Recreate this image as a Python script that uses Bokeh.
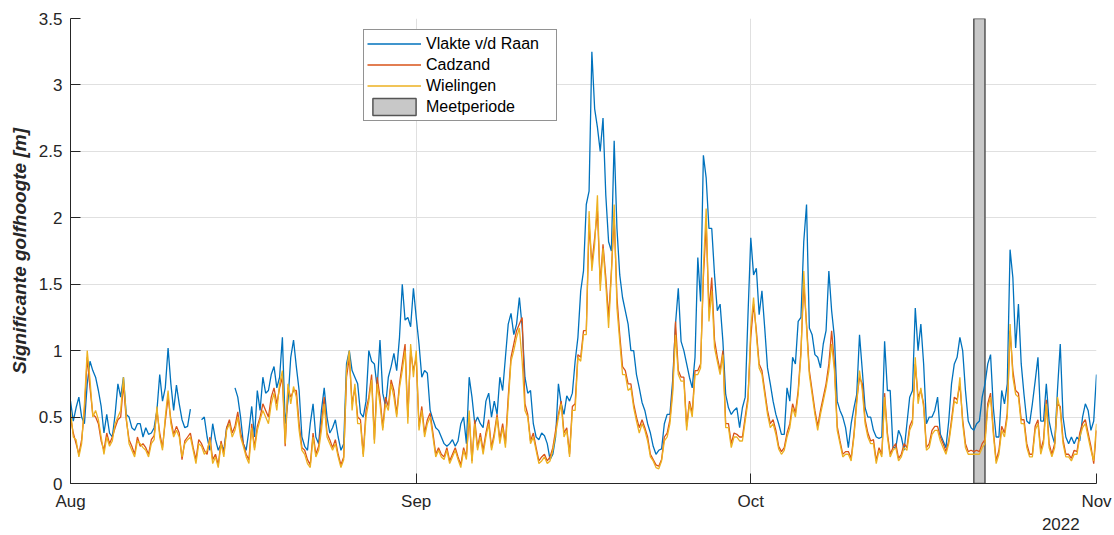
import numpy as np
from bokeh.plotting import figure
from bokeh.models import (Range1d, FixedTicker, NumeralTickFormatter, Legend,
                          LegendItem, LinearAxis)
from bokeh.embed import file_html
from bokeh.resources import INLINE

nan = float("nan")

# --- data (6-hourly samples from 1 Aug 2022) ---
step_days = 0.25
vlakte = [
    0.62, 0.47, 0.57, 0.65, 0.5, 0.45, 0.75, 0.92, 0.85, 0.8,
    0.7, 0.58, 0.38, 0.52, 0.38, 0.35, 0.52, 0.75, 0.65, 0.8,
    0.52, 0.5, 0.42, 0.4, 0.45, 0.45, 0.35, 0.42, 0.37, 0.38,
    0.42, 0.55, 0.82, 0.62, 0.72, 1.02, 0.75, 0.55, 0.74, 0.6,
    0.48, 0.42, 0.43, 0.56, nan, nan, nan, 0.48, 0.5, 0.35,
    0.25, 0.45, 0.33, 0.25, 0.3, 0.25, 0.42, 0.45, nan, 0.72,
    0.65, 0.5, 0.3, 0.25, 0.4, 0.58, 0.35, 0.7, 0.55, 0.8,
    0.68, 0.7, 0.82, 0.88, 0.72, 0.8, 1.1, 0.45, 0.62, 0.95,
    1.08, 0.88, 0.7, 0.35, 0.28, 0.25, 0.45, 0.6, 0.35, 0.3,
    0.55, 0.72, 0.5, 0.38, 0.42, 0.48, 0.35, 0.25, 0.3, 0.9,
    1.0, 0.85, 0.8, 0.75, 0.53, 0.5, 0.62, 1.0, 0.92, 0.9,
    0.72, 1.08, 0.68, 0.58, 0.8, 0.88, 0.98, 0.85, 1.1, 1.5,
    1.23, 1.25, 1.18, 1.47, 1.25, 1.05, 0.8, 0.85, 0.83, 0.55,
    0.48, 0.42, 0.4, 0.35, 0.3, 0.28, 0.3, 0.33, 0.28, 0.32,
    0.45, 0.5, 0.3, 0.8, 0.65, 0.45, 0.5, 0.45, 0.42, 0.62,
    0.68, 0.5, 0.62, 0.52, 0.8, 0.7, 0.95, 1.2, 1.28, 1.12,
    1.2, 1.4, 1.18, 0.8, 0.68, 0.7, 0.45, 0.35, 0.33, 0.38,
    0.36, 0.3, 0.18, 0.22, 0.35, 0.75, 0.6, 0.52, 0.66, 0.62,
    0.68, 0.92, 1.1, 1.45, 1.6, 2.1, 2.2, 3.25, 2.82, 2.68,
    2.5, 2.75, 2.17, 1.82, 1.75, 2.58, 1.92, 1.57, 1.4, 1.3,
    1.2, 1.0, 1.0, 0.82, 0.72, 0.61, 0.55, 0.45, 0.38, 0.28,
    0.22, 0.25, 0.26, 0.45, 0.52, 0.52, 0.78, 1.2, 1.47, 1.07,
    1.0, 0.9, 0.8, 0.72, 0.95, 1.7, 1.37, 2.47, 2.3, 1.92,
    1.92, 1.57, 1.3, 1.35, 1.07, 0.67, 0.57, 0.52, 0.55, 0.57,
    0.42, 0.57, 0.65, 1.27, 1.85, 1.57, 1.62, 1.27, 1.45, 1.17,
    0.87, 0.75, 0.62, 0.52, 0.45, 0.37, 0.37, 0.72, 0.62, 0.95,
    0.9, 1.22, 1.25, 1.82, 2.1, 1.17, 1.12, 0.97, 0.95, 0.87,
    1.05, 1.15, 1.6, 1.3, 1.1, 0.62, 0.55, 0.5, 0.42, 0.27,
    0.45, 0.57, 0.67, 1.12, 0.85, 0.57, 0.5, 0.5, 0.4, 0.35,
    0.34, 0.35, 1.07, 0.7, 0.7, 0.27, 0.27, 0.4, 0.35, 0.25,
    0.45, 0.65, 0.7, 1.32, 1.0, 1.2, 0.9, 0.45, 0.5, 0.5,
    0.55, 0.65, 0.37, 0.32, 0.27, 0.47, 0.75, 0.9, 0.95, 1.1,
    1.0, 0.7, 0.47, 0.42, 0.4, 0.45, 0.47, 0.65, 0.75, 0.9,
    0.97, 0.57, 0.35, 0.35, 0.7, 0.6, 0.75, 1.76, 1.55, 1.02,
    1.35, 0.9, 0.67, 0.47, 0.45, 0.6, 0.77, 0.95, 0.47, 0.47,
    0.75, 0.47, 0.37, 0.3, 0.7, 1.05, 0.5, 0.35, 0.3, 0.35,
    0.3, 0.35, 0.32, 0.5, 0.6, 0.55, 0.4, 0.47, 0.82,
]
cadzand = [
    0.5, 0.38, 0.3, 0.22, 0.33, 0.55, 0.95, 0.72, 0.52, 0.5,
    0.45, 0.32, 0.25, 0.38, 0.3, 0.35, 0.42, 0.48, 0.5, 0.75,
    0.48, 0.33, 0.28, 0.22, 0.35, 0.28, 0.3, 0.27, 0.22, 0.33,
    0.36, 0.55, 0.38, 0.27, 0.47, 0.65, 0.48, 0.37, 0.43, 0.38,
    0.18, 0.32, 0.35, 0.38, 0.27, 0.18, 0.33, 0.3, 0.25, 0.22,
    0.35, 0.18, 0.22, 0.14, 0.32, 0.22, 0.42, 0.48, 0.38, 0.43,
    0.54, 0.38, 0.3, 0.22, 0.18, 0.45, 0.27, 0.43, 0.5, 0.6,
    0.55, 0.5, 0.65, 0.72, 0.6, 0.72, 0.8, 0.28, 0.72, 0.65,
    0.7, 0.7, 0.45, 0.27, 0.25, 0.18, 0.14, 0.38, 0.22, 0.28,
    0.45, 0.65, 0.38, 0.33, 0.27, 0.33, 0.22, 0.14, 0.2, 0.8,
    0.95, 0.6, 0.72, 0.5, 0.48, 0.22, 0.55, 0.65, 0.82, 0.33,
    0.8, 0.65, 0.42, 0.65, 0.58, 0.78, 0.7, 0.52, 0.75, 0.9,
    1.05, 0.5, 1.0, 0.85, 0.95, 0.43, 0.58, 0.38, 0.48, 0.53,
    0.38, 0.22, 0.27, 0.22, 0.2, 0.27, 0.17, 0.22, 0.27, 0.2,
    0.14, 0.27, 0.2, 0.5, 0.17, 0.48, 0.27, 0.38, 0.25, 0.38,
    0.48, 0.27, 0.38, 0.52, 0.33, 0.45, 0.3, 0.65, 0.95, 1.05,
    1.15, 1.2, 1.25, 0.6, 0.52, 0.32, 0.38, 0.27, 0.17, 0.2,
    0.22, 0.17, 0.2, 0.27, 0.4, 0.52, 0.62, 0.38, 0.42, 0.22,
    0.58, 0.6, 0.97, 0.95, 1.15, 1.15, 1.95, 1.65, 1.85, 2.05,
    1.5, 1.8, 1.55, 1.25, 1.6, 2.0, 1.4, 1.12, 0.88, 0.85,
    0.75, 0.75, 0.6, 0.5, 0.42, 0.48, 0.42, 0.35, 0.22, 0.18,
    0.14, 0.13, 0.18, 0.35, 0.38, 0.48, 0.72, 1.22, 0.85, 0.8,
    0.8, 0.43, 0.62, 0.53, 0.85, 0.85, 0.9, 1.55, 1.95, 1.3,
    1.55, 1.08, 0.95, 0.85, 1.0, 0.45, 0.45, 0.3, 0.38, 0.37,
    0.35, 0.35, 0.5, 0.65, 1.1, 1.35, 1.15, 0.9, 0.85, 0.7,
    0.55, 0.45, 0.48, 0.4, 0.28, 0.24, 0.27, 0.38, 0.45, 0.6,
    0.53, 0.7, 1.0, 1.5, 1.2, 0.85, 0.7, 0.55, 0.43, 0.55,
    0.65, 0.75, 0.9, 1.15, 0.9, 0.43, 0.32, 0.22, 0.24, 0.24,
    0.19, 0.37, 0.63, 0.8, 0.75, 0.48, 0.38, 0.32, 0.33, 0.17,
    0.27, 0.22, 0.68, 0.38, 0.22, 0.27, 0.3, 0.19, 0.22, 0.3,
    0.27, 0.43, 0.48, 0.9, 0.65, 0.7, 0.6, 0.27, 0.3, 0.4,
    0.43, 0.43, 0.35, 0.3, 0.24, 0.32, 0.48, 0.65, 0.63, 0.75,
    0.48, 0.3, 0.24, 0.25, 0.24, 0.25, 0.24, 0.3, 0.33, 0.6,
    0.68, 0.4, 0.17, 0.25, 0.43, 0.38, 0.53, 1.15, 0.85, 0.7,
    0.68, 0.48, 0.48, 0.3, 0.22, 0.22, 0.43, 0.48, 0.25, 0.33,
    0.63, 0.3, 0.22, 0.3, 0.6, 0.58, 0.33, 0.22, 0.22, 0.19,
    0.25, 0.24, 0.38, 0.45, 0.48, 0.38, 0.28, 0.15, 0.4,
]
wielingen = [
    0.55, 0.35, 0.33, 0.2, 0.3, 0.6, 1.0, 0.78, 0.5, 0.55,
    0.48, 0.35, 0.22, 0.35, 0.28, 0.32, 0.45, 0.5, 0.55, 0.8,
    0.5, 0.3, 0.25, 0.2, 0.32, 0.3, 0.27, 0.25, 0.2, 0.3,
    0.33, 0.58, 0.35, 0.25, 0.5, 0.7, 0.45, 0.35, 0.4, 0.35,
    0.2, 0.3, 0.33, 0.35, 0.25, 0.15, 0.3, 0.28, 0.22, 0.25,
    0.33, 0.15, 0.2, 0.12, 0.3, 0.2, 0.4, 0.45, 0.35, 0.4,
    0.5, 0.35, 0.28, 0.2, 0.15, 0.42, 0.25, 0.4, 0.48, 0.55,
    0.5, 0.45, 0.6, 0.68, 0.55, 0.75, 0.85, 0.3, 0.75, 0.6,
    0.73, 0.65, 0.4, 0.25, 0.22, 0.15, 0.12, 0.35, 0.2, 0.25,
    0.4, 0.6, 0.35, 0.3, 0.25, 0.3, 0.2, 0.12, 0.18, 0.85,
    1.0, 0.55, 0.75, 0.45, 0.45, 0.2, 0.5, 0.62, 0.78, 0.3,
    0.75, 0.6, 0.4, 0.6, 0.55, 0.75, 0.65, 0.5, 0.72, 0.85,
    1.0, 0.45, 1.05, 0.8, 1.0, 0.4, 0.55, 0.35, 0.45, 0.5,
    0.35, 0.2, 0.25, 0.2, 0.18, 0.25, 0.15, 0.2, 0.25, 0.18,
    0.12, 0.25, 0.18, 0.55, 0.15, 0.45, 0.25, 0.35, 0.22, 0.35,
    0.45, 0.25, 0.35, 0.5, 0.3, 0.42, 0.27, 0.6, 0.92, 1.0,
    1.1, 1.17, 0.92, 0.55, 0.5, 0.3, 0.35, 0.25, 0.15, 0.17,
    0.2, 0.15, 0.17, 0.25, 0.37, 0.5, 0.6, 0.35, 0.4, 0.2,
    0.55, 0.55, 0.95, 0.92, 1.12, 1.12, 2.05, 1.6, 1.8, 2.17,
    1.45, 1.77, 1.5, 1.17, 1.57, 2.1, 1.32, 1.07, 0.82, 0.82,
    0.7, 0.72, 0.57, 0.47, 0.38, 0.45, 0.4, 0.32, 0.2, 0.17,
    0.12, 0.11, 0.17, 0.32, 0.35, 0.45, 0.68, 1.12, 0.82, 0.77,
    0.77, 0.4, 0.6, 0.5, 0.82, 0.82, 0.87, 1.62, 2.07, 1.22,
    1.45, 1.02, 0.92, 0.82, 0.97, 0.42, 0.42, 0.27, 0.35, 0.35,
    0.32, 0.32, 0.47, 0.62, 1.17, 1.4, 1.12, 0.87, 0.82, 0.67,
    0.52, 0.42, 0.45, 0.37, 0.26, 0.22, 0.25, 0.35, 0.42, 0.57,
    0.5, 0.67, 0.97, 1.6, 1.17, 0.82, 0.67, 0.52, 0.4, 0.52,
    0.62, 0.72, 0.85, 1.05, 0.85, 0.4, 0.3, 0.2, 0.22, 0.22,
    0.17, 0.35, 0.6, 0.85, 0.7, 0.45, 0.35, 0.3, 0.3, 0.15,
    0.25, 0.2, 0.65, 0.35, 0.2, 0.25, 0.27, 0.17, 0.2, 0.27,
    0.25, 0.4, 0.45, 0.95, 0.6, 0.72, 0.57, 0.25, 0.27, 0.37,
    0.4, 0.4, 0.32, 0.27, 0.22, 0.3, 0.45, 0.62, 0.6, 0.8,
    0.45, 0.27, 0.22, 0.22, 0.22, 0.22, 0.22, 0.27, 0.3, 0.57,
    0.65, 0.37, 0.15, 0.22, 0.4, 0.35, 0.5, 1.2, 0.8, 0.67,
    0.65, 0.45, 0.45, 0.27, 0.2, 0.2, 0.4, 0.45, 0.22, 0.3,
    0.6, 0.27, 0.2, 0.27, 0.65, 0.55, 0.3, 0.2, 0.2, 0.17,
    0.22, 0.22, 0.35, 0.42, 0.45, 0.35, 0.25, 0.17, 0.45,
]
month_ticks = [0, 31, 61, 92]          # days since 1 Aug 2022
month_labels = ["Aug", "Sep", "Oct", "Nov"]
year_label = "2022"
year_pos = 88.8
y_ticks = [0, 0.5, 1, 1.5, 2, 2.5, 3, 3.5]
meet_start, meet_end = 81.0, 82.0      # 21 Oct - 22 Oct
x_start, x_end = 0, 92
y_start, y_end = 0, 3.5

names = ["Vlakte v/d Raan", "Cadzand", "Wielingen", "Meetperiode"]
colors = ["#0072BD", "#D95319", "#EDB120"]

FONT = "Liberation Sans"
DARK = "#262626"

p = figure(width=1114, height=535, output_backend="svg", toolbar_location=None,
           x_range=Range1d(x_start, x_end), y_range=Range1d(y_start, y_end),
           min_border_left=70, min_border_right=18, min_border_top=18,
           min_border_bottom=52)
p.outline_line_color = None
p.background_fill_color = "white"

r_q = p.quad(left=[meet_start], right=[meet_end], bottom=[y_start], top=[y_end],
             fill_color="#c8c8c8", line_color="#555555", line_width=1.5)

renderers = []
for series, col in zip([vlakte, cadzand, wielingen], colors):
    xs = np.arange(len(series)) * step_days
    ys = np.array(series, dtype=float)
    renderers.append(p.line(xs, ys, line_color=col, line_width=1.3))

p.xaxis.ticker = FixedTicker(ticks=month_ticks)
p.xaxis.major_label_overrides = {t: l for t, l in zip(month_ticks, month_labels)}
p.yaxis.ticker = FixedTicker(ticks=y_ticks)
p.yaxis.formatter = NumeralTickFormatter(format="0.[0]")

for ax in [p.xaxis[0], p.yaxis[0]]:
    ax.major_tick_in = 10
    ax.major_tick_out = 0
    ax.minor_tick_in = 0
    ax.minor_tick_out = 0
    ax.axis_line_color = DARK
    ax.axis_line_width = 1
    ax.major_tick_line_color = DARK
    ax.major_label_text_color = DARK
    ax.major_label_text_font = FONT
    ax.major_label_text_font_size = "17px"

p.xaxis.major_label_standoff = 8
p.yaxis.major_label_standoff = 8
p.yaxis.axis_label = "Significante golfhoogte [m]"
p.yaxis.axis_label_text_font = FONT
p.yaxis.axis_label_text_font_style = "bold italic"
p.yaxis.axis_label_text_font_size = "19px"
p.yaxis.axis_label_text_color = DARK
p.yaxis.axis_label_standoff = 6

# year label under the last month tick, as a second (line-less) axis
year_axis = LinearAxis(ticker=FixedTicker(ticks=[year_pos]),
                       major_label_overrides={year_pos: year_label},
                       axis_line_color=None, major_tick_line_color=None,
                       minor_tick_line_color=None, major_tick_in=0,
                       major_tick_out=0, major_label_standoff=4,
                       major_label_text_font=FONT,
                       major_label_text_font_size="17px",
                       major_label_text_color=DARK)
p.add_layout(year_axis, "below")

p.grid.grid_line_color = "#e0e0e0"
p.grid.grid_line_width = 1

legend = Legend(
    items=[LegendItem(label=names[0], renderers=[renderers[0]]),
           LegendItem(label=names[1], renderers=[renderers[1]]),
           LegendItem(label=names[2], renderers=[renderers[2]]),
           LegendItem(label=names[3], renderers=[r_q])],
    location=(293, 362), margin=0, padding=3, spacing=0,
    glyph_width=54, glyph_height=21, label_height=21, label_width=127,
    label_standoff=5, label_text_font=FONT, label_text_font_size="16px",
    label_text_color="#000000", label_text_baseline="middle",
    border_line_color=DARK, border_line_width=1,
    background_fill_color="white", background_fill_alpha=1.0)
p.add_layout(legend)

open("out.html", "w").write(file_html(p, INLINE))
